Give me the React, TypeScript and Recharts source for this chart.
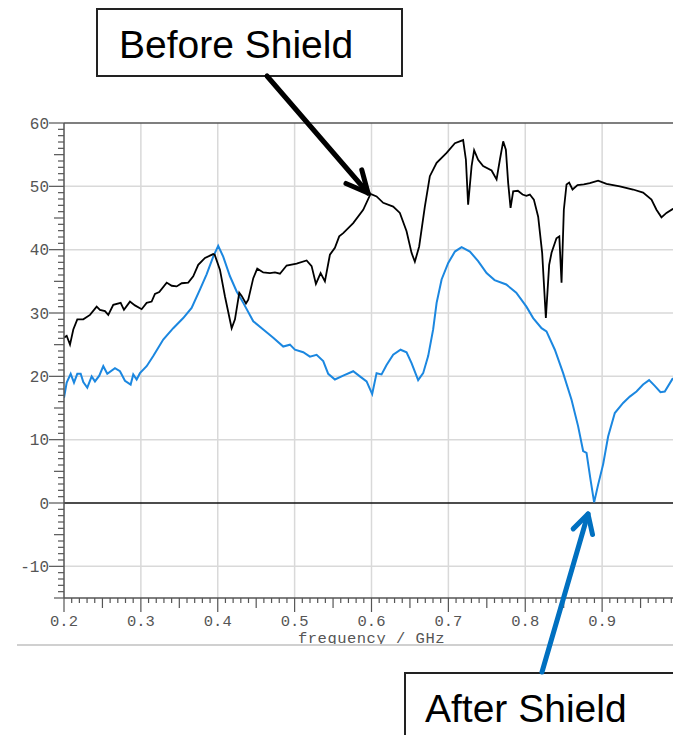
import { LineChart, Line, XAxis, YAxis, ReferenceLine } from 'recharts';

// frequency (GHz) / level (dB)
const beforeFreq = [0.2, 0.2035, 0.2078, 0.2121, 0.2173, 0.2251, 0.2338, 0.2425, 0.2468, 0.2533, 0.2576, 0.2641, 0.2737, 0.278, 0.2858, 0.2923, 0.301, 0.3075, 0.314, 0.3183, 0.3239, 0.3336, 0.3401, 0.3466, 0.3531, 0.3616, 0.3681, 0.3746, 0.3834, 0.3941, 0.396, 0.4029, 0.4094, 0.4181, 0.4224, 0.428, 0.4311, 0.4367, 0.4397, 0.4462, 0.4514, 0.4592, 0.4679, 0.4744, 0.4809, 0.4896, 0.5026, 0.5156, 0.5221, 0.5277, 0.5338, 0.5394, 0.5459, 0.5524, 0.558, 0.5632, 0.5762, 0.5892, 0.5988, 0.6066, 0.6152, 0.6282, 0.6369, 0.6456, 0.6521, 0.6564, 0.662, 0.6694, 0.6759, 0.6847, 0.6977, 0.7085, 0.7192, 0.7228, 0.7257, 0.7302, 0.7335, 0.7387, 0.7452, 0.7562, 0.7627, 0.767, 0.7713, 0.7748, 0.7778, 0.7809, 0.7843, 0.7904, 0.7965, 0.8015, 0.806, 0.8112, 0.8168, 0.822, 0.8268, 0.8311, 0.8342, 0.8406, 0.8443, 0.8472, 0.8502, 0.8537, 0.8571, 0.8615, 0.868, 0.8762, 0.884, 0.8948, 0.9057, 0.923, 0.9403, 0.9533, 0.9642, 0.9707, 0.9772, 0.9837, 0.9915, 1.0];
const beforeDb = [26.1, 26.4, 25.0, 27.4, 29.0, 29.0, 29.7, 31.0, 30.5, 30.3, 29.7, 31.3, 31.6, 30.5, 31.8, 31.2, 30.6, 31.6, 31.8, 33.0, 33.3, 34.8, 34.3, 34.2, 34.7, 34.8, 35.8, 37.6, 38.7, 39.3, 39.2, 36.8, 32.6, 27.6, 29.0, 33.2, 32.7, 31.5, 32.1, 35.5, 37.0, 36.4, 36.3, 36.4, 36.2, 37.5, 37.8, 38.3, 37.4, 34.6, 36.3, 35.0, 39.2, 40.3, 42.1, 42.6, 44.2, 46.3, 48.8, 48.4, 47.4, 46.8, 45.8, 42.9, 39.5, 38.1, 40.5, 46.8, 51.6, 53.7, 55.3, 56.8, 57.3, 54.2, 47.1, 53.2, 55.7, 54.2, 53.2, 52.5, 51.1, 54.2, 57.1, 55.8, 50.5, 46.6, 49.2, 49.3, 48.7, 48.5, 48.7, 47.9, 45.2, 39.5, 29.2, 37.6, 39.5, 41.8, 42.1, 34.8, 46.3, 50.3, 50.6, 49.5, 50.2, 50.3, 50.5, 50.9, 50.4, 50.0, 49.5, 49.0, 47.9, 46.3, 45.1, 45.8, 46.4, 46.6];

const afterFreq = [0.2, 0.2035, 0.2087, 0.213, 0.2173, 0.2217, 0.2251, 0.2303, 0.236, 0.2403, 0.2459, 0.2511, 0.2563, 0.2663, 0.2728, 0.2793, 0.2867, 0.2901, 0.2945, 0.2988, 0.3075, 0.3161, 0.3291, 0.3421, 0.3551, 0.366, 0.3768, 0.3855, 0.3941, 0.4006, 0.4071, 0.4159, 0.4246, 0.4332, 0.4462, 0.4592, 0.4722, 0.4852, 0.4939, 0.5004, 0.5112, 0.5199, 0.5286, 0.5372, 0.5437, 0.5524, 0.5632, 0.5762, 0.5849, 0.5936, 0.6009, 0.6066, 0.6131, 0.6196, 0.6282, 0.6378, 0.6456, 0.6521, 0.6607, 0.6672, 0.6737, 0.6802, 0.6847, 0.6912, 0.6998, 0.7085, 0.7172, 0.728, 0.7387, 0.7497, 0.7601, 0.7753, 0.7883, 0.8015, 0.8103, 0.8212, 0.8276, 0.8385, 0.8493, 0.8602, 0.8688, 0.8753, 0.8797, 0.8849, 0.8896, 0.8948, 0.9013, 0.9078, 0.9165, 0.9273, 0.936, 0.9447, 0.9533, 0.9611, 0.9685, 0.9759, 0.9815, 0.9915, 1.0];
const afterDb = [16.6, 19.0, 20.4, 19.0, 20.4, 20.4, 19.1, 18.2, 20.0, 19.2, 20.1, 21.6, 20.4, 21.3, 20.8, 19.3, 18.7, 20.3, 19.5, 20.5, 21.6, 23.2, 25.8, 27.6, 29.2, 30.8, 33.7, 36.1, 38.9, 40.6, 38.9, 35.8, 33.4, 31.6, 28.7, 27.4, 26.1, 24.7, 25.0, 24.2, 23.8, 23.1, 23.4, 22.4, 20.4, 19.5, 20.1, 20.8, 20.0, 19.2, 17.2, 20.5, 20.3, 21.8, 23.4, 24.2, 23.8, 22.1, 19.4, 20.5, 23.2, 27.4, 31.6, 35.3, 37.9, 39.7, 40.4, 39.7, 38.2, 36.3, 35.2, 34.5, 33.2, 31.0, 29.2, 27.6, 27.1, 24.2, 20.5, 16.3, 12.1, 8.2, 7.9, 3.7, 0.1, 2.9, 6.1, 10.5, 14.2, 15.8, 16.8, 17.6, 18.7, 19.4, 18.5, 17.5, 17.6, 19.6, 20.0];

const xMajorTicks = [0.2, 0.3, 0.4, 0.5, 0.6, 0.7, 0.8, 0.9, 1.0];
const xLabelTicks = [0.2, 0.3, 0.4, 0.5, 0.6, 0.7, 0.8, 0.9];
const yMajorTicks = [-10, 0, 10, 20, 30, 40, 50, 60];
const xDomain: [number, number] = [0.2, 1.0];
const yDomain: [number, number] = [-15, 60];

const beforeData = beforeFreq.map((f, i) => ({ f, v: beforeDb[i] }));
const afterData = afterFreq.map((f, i) => ({ f, v: afterDb[i] }));

// minor ticks: every 0.01 GHz and every 1 dB
const xMinorTicks: number[] = [];
for (let h = 20; h <= 100; h++) xMinorTicks.push(h / 100);
const yMinorTicks: number[] = [];
for (let d = yDomain[0]; d <= yDomain[1]; d++) yMinorTicks.push(d);

const AXIS = '#555';
const GRID = '#d9d9d9';
const LABEL_FONT = '"Liberation Mono", "DejaVu Sans Mono", monospace';
const NOTE_FONT = '"Liberation Sans", Arial, sans-serif';

function XTick({ x, y, payload }: any) {
  const h = Math.round(payload.value * 100);
  const major = h % 10 === 0;
  const len = major ? 14 : h % 5 === 0 ? 10 : 5;
  const labelled = xLabelTicks.some((t) => Math.round(t * 100) === h);
  return (
    <g>
      <line x1={x} x2={x} y1={y} y2={y + len} stroke={AXIS} strokeWidth={1.2} />
      {labelled && (
        <text x={x} y={y + 28} textAnchor="middle" fill="#555" fontSize={15.5} fontFamily={LABEL_FONT}>
          {payload.value.toFixed(1)}
        </text>
      )}
    </g>
  );
}

function YTick({ x, y, payload }: any) {
  const v = payload.value;
  const major = v % 10 === 0;
  const len = major ? 15 : v % 5 === 0 ? 10 : 6;
  return (
    <g>
      <line x1={x - len} x2={x} y1={y} y2={y} stroke={AXIS} strokeWidth={1.2} />
      {major && (
        <text x={x - 15} y={y + 5.5} textAnchor="end" fill="#555" fontSize={16} fontFamily={LABEL_FONT}>
          {v}
        </text>
      )}
    </g>
  );
}

function Arrow({ x1, y1, x2, y2, color, head, spread }: any) {
  const a = Math.atan2(y1 - y2, x1 - x2);
  const p1 = [x2 + head * Math.cos(a + spread), y2 + head * Math.sin(a + spread)];
  const p2 = [x2 + head * Math.cos(a - spread), y2 + head * Math.sin(a - spread)];
  return (
    <g stroke={color} strokeWidth={5} strokeLinecap="round" strokeLinejoin="round" fill="none">
      <line x1={x1} y1={y1} x2={x2} y2={y2} />
      <polyline points={`${p1[0]},${p1[1]} ${x2},${y2} ${p2[0]},${p2[1]}`} />
    </g>
  );
}

export default function App() {
  return (
    <div style={{ position: 'absolute', left: 0, top: 0, width: 673, height: 735, overflow: 'hidden', background: '#fff' }}>
      <LineChart width={700} height={735} margin={{ top: 123, right: 21, bottom: 97, left: 14 }}>
        <XAxis
          dataKey="f"
          type="number"
          domain={xDomain}
          ticks={xMinorTicks}
          interval={0}
          tick={<XTick />}
          tickLine={false}
          tickSize={0}
          tickMargin={0}
          height={40}
          stroke={AXIS}
          strokeWidth={1.5}
          allowDataOverflow
          label={{ value: 'frequency / GHz', position: 'insideBottom', offset: -5, fill: '#555', fontSize: 15.5, fontFamily: LABEL_FONT, letterSpacing: 0.5 }}
        />
        <YAxis
          type="number"
          domain={yDomain}
          ticks={yMinorTicks}
          interval={0}
          tick={<YTick />}
          tickLine={false}
          tickSize={0}
          tickMargin={0}
          width={50}
          stroke={AXIS}
          strokeWidth={1.5}
          allowDataOverflow
        />
        {xMajorTicks.slice(1).map((v) => (
          <ReferenceLine key={`gx${v}`} x={v} stroke={GRID} strokeWidth={1.5} />
        ))}
        {yMajorTicks.filter((v) => v !== 0 && v !== 60).map((v) => (
          <ReferenceLine key={`gy${v}`} y={v} stroke={GRID} strokeWidth={1.5} />
        ))}
        <ReferenceLine y={60} stroke={AXIS} strokeWidth={1.5} />
        <ReferenceLine y={0} stroke="#111" strokeWidth={1.5} />
        <Line data={afterData} dataKey="v" type="linear" stroke="#1b87e0" strokeWidth={2} dot={false} isAnimationActive={false} />
        <Line data={beforeData} dataKey="v" type="linear" stroke="#000" strokeWidth={1.8} dot={false} isAnimationActive={false} />
      </LineChart>

      <div style={{ position: 'absolute', left: 17, top: 644, width: 656, height: 1.5, background: '#d0d0d0' }} />

      <svg width={673} height={735} style={{ position: 'absolute', left: 0, top: 0, pointerEvents: 'none' }}>
        <rect x={97} y={9} width={305} height={67} fill="#fff" stroke="#222" strokeWidth={2} />
        <text x={119} y={58} fontSize={39} fontFamily={NOTE_FONT} fill="#000">Before Shield</text>
        <Arrow x1={267} y1={76} x2={368} y2={193} color="#000" head={24} spread={0.45} />

        <rect x={405} y={673} width={300} height={100} fill="#fff" stroke="#222" strokeWidth={2} />
        <text x={425} y={722} fontSize={39} fontFamily={NOTE_FONT} fill="#000">After Shield</text>
        <Arrow x1={542} y1={672} x2={588} y2={514} color="#0070c0" head={21} spread={0.5} />
      </svg>
    </div>
  );
}
